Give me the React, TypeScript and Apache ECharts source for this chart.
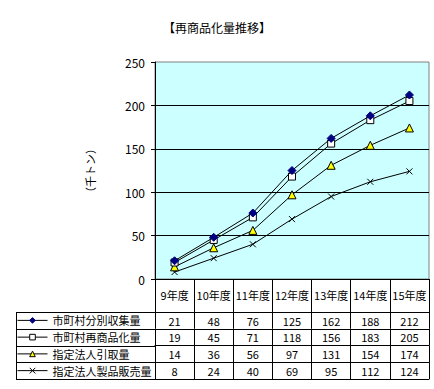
import React, { useEffect, useRef } from "react";
import * as echarts from "echarts";

const title = "【再商品化量推移】";
const yAxisName = "（千トン）";
const categories = ["9年度", "10年度", "11年度", "12年度", "13年度", "14年度", "15年度"];
const seriesNames = ["市町村分別収集量", "市町村再商品化量", "指定法人引取量", "指定法人製品販売量"];
const collected = [21, 48, 76, 125, 162, 188, 212];
const recycled = [19, 45, 71, 118, 156, 183, 205];
const received = [14, 36, 56, 97, 131, 154, 174];
const sold = [8, 24, 40, 69, 95, 112, 124];
const yMin = 0;
const yMax = 250;
const yInterval = 50;

const FONT = "'Noto Sans CJK JP', 'Noto Sans', sans-serif";
const W = 434;
const H = 389;
const GRID_LEFT = 155;
const GRID_TOP = 62;
const GRID_RIGHT = 5;
const GRID_BOTTOM = 110;
const HEADER_H = 33;
const ROW_H = 16.75;
const TABLE_LEFT = 16;
const LEGEND_FONT = 11;

export default function App() {
  const ref = useRef<HTMLDivElement>(null);
  useEffect(() => {
    if (!ref.current) return;
    const chart = echarts.init(ref.current, null, { renderer: "svg" });
    const allValues = [collected, recycled, received, sold];
    const symbols = ["diamond", "rect", "triangle", "path://M0,0L8,8M8,0L0,8"];
    const fills = ["#000080", "#ffffff", "#ffff00", "#000000"];
    const borders = ["#000080", "#000000", "#000000", "#000000"];
    const sizes = [8, 7, 8, 6];

    const plotBottom = H - GRID_BOTTOM;

    const xAxes: any[] = [
      {
        type: "category",
        data: categories,
        position: "bottom",
        gridIndex: 0,
        boundaryGap: true,
        axisLine: { show: true, lineStyle: { color: "#000", width: 1 } },
        axisTick: { show: true, interval: 0, length: HEADER_H, lineStyle: { color: "#000" } },
        axisLabel: { interval: 0, margin: 10, color: "#000", fontSize: 11, fontFamily: FONT },
        splitLine: { show: false },
      },
    ];
    allValues.forEach((vals, i) => {
      const off = HEADER_H + i * ROW_H;
      xAxes.push({
        type: "category",
        data: vals.map((v) => String(v)),
        position: "bottom",
        offset: off,
        gridIndex: 0,
        boundaryGap: true,
        axisLine: { show: true, lineStyle: { color: "#000", width: 1 } },
        axisTick: { show: true, interval: 0, length: ROW_H, lineStyle: { color: "#000" } },
        axisLabel: { interval: 0, margin: 3, color: "#000", fontSize: 11, fontFamily: FONT },
        splitLine: { show: false },
      });
    });
    xAxes.push({
      type: "category",
      data: categories,
      position: "bottom",
      offset: HEADER_H + 4 * ROW_H,
      gridIndex: 0,
      axisLine: { show: true, lineStyle: { color: "#000", width: 1 } },
      axisTick: { show: false },
      axisLabel: { show: false },
      splitLine: { show: false },
    });

    const graphics: any[] = [];
    for (let i = 0; i <= 4; i++) {
      const y = Math.round(plotBottom + HEADER_H + i * ROW_H) + 0.5;
      graphics.push({
        type: "line",
        shape: { x1: TABLE_LEFT, y1: y, x2: GRID_LEFT, y2: y },
        style: { stroke: "#000", lineWidth: 1 },
        silent: true,
      });
    }
    graphics.push({
      type: "line",
      shape: {
        x1: TABLE_LEFT + 0.5,
        y1: Math.round(plotBottom + HEADER_H) + 0.5,
        x2: TABLE_LEFT + 0.5,
        y2: Math.round(plotBottom + HEADER_H + 4 * ROW_H) + 0.5,
      },
      style: { stroke: "#000", lineWidth: 1 },
      silent: true,
    });

    const legendItemH = 7;
    const legendTop = plotBottom + HEADER_H + ROW_H / 2 - LEGEND_FONT / 2;

    chart.setOption({
      animation: false,
      textStyle: { fontFamily: FONT },
      title: {
        text: title,
        left: "center",
        top: 16,
        textStyle: { fontSize: 12, fontWeight: "normal", color: "#000", fontFamily: FONT },
      },
      grid: {
        left: GRID_LEFT,
        top: GRID_TOP,
        right: GRID_RIGHT,
        bottom: GRID_BOTTOM,
        show: true,
        backgroundColor: "#ccffff",
        borderColor: "#808080",
        borderWidth: 1,
        containLabel: false,
      },
      legend: {
        show: true,
        orient: "vertical",
        left: TABLE_LEFT + 1,
        top: legendTop,
        padding: 0,
        itemWidth: 30,
        itemHeight: legendItemH,
        itemGap: ROW_H - LEGEND_FONT,
        selectedMode: false,
        lineStyle: { width: 1, color: "#000" },
        itemStyle: { borderWidth: 1 },
        textStyle: { fontSize: LEGEND_FONT, lineHeight: LEGEND_FONT, color: "#000", fontFamily: FONT },
        data: seriesNames,
      },
      xAxis: xAxes,
      yAxis: {
        type: "value",
        min: yMin,
        max: yMax,
        interval: yInterval,
        name: yAxisName,
        nameLocation: "middle",
        nameGap: 60,
        nameRotate: 90,
        nameTextStyle: { fontSize: 11, color: "#000", fontFamily: FONT },
        axisLine: { show: true, lineStyle: { color: "#000", width: 1 } },
        axisTick: { show: true, length: 4, lineStyle: { color: "#000" } },
        axisLabel: { margin: 10, color: "#000", fontSize: 12, fontFamily: FONT },
        splitLine: { show: true, showMaxLine: false, lineStyle: { color: "#000", width: 1 } },
      },
      graphic: graphics,
      series: allValues.map((vals, i) => ({
        name: seriesNames[i],
        type: "line",
        xAxisIndex: 0,
        yAxisIndex: 0,
        data: vals,
        symbol: symbols[i],
        symbolSize: sizes[i],
        showAllSymbol: true,
        lineStyle: { color: "#000", width: 1 },
        itemStyle: { color: fills[i], borderColor: borders[i], borderWidth: 1 },
        emphasis: { disabled: true },
        z: 10 - i,
      })),
    });
    return () => chart.dispose();
  }, []);
  return (
    <div
      ref={ref}
      style={{ position: "fixed", left: 0, top: 0, width: W, height: H, background: "#fff" }}
    />
  );
}
